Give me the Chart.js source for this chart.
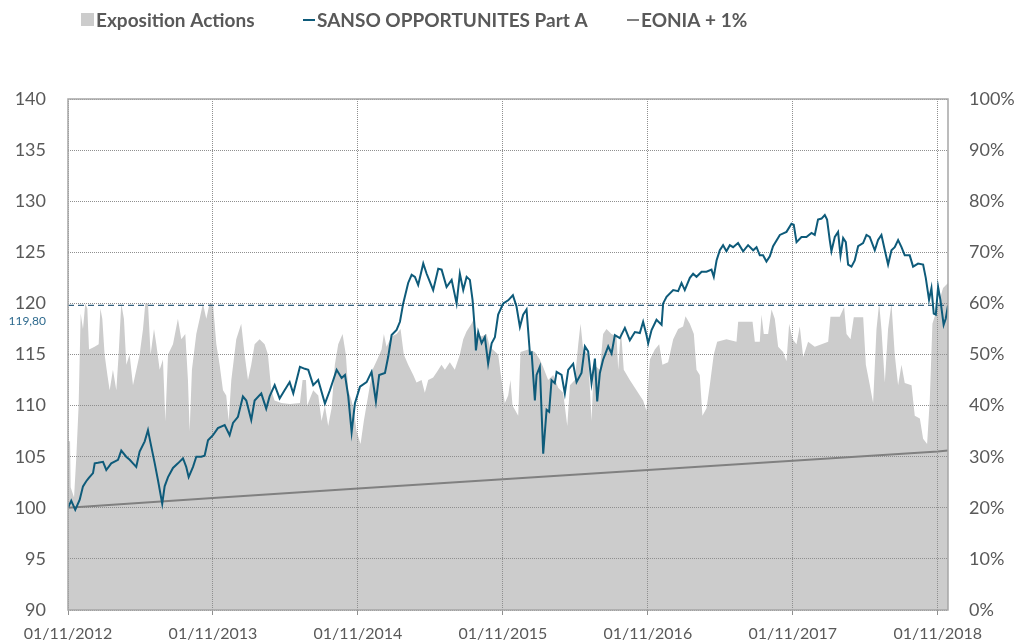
<!DOCTYPE html>
<html>
<head>
<meta charset="utf-8">
<script src="https://cdn.jsdelivr.net/npm/chart.js@4.4.1/dist/chart.umd.min.js"></script>
<style>
html,body{margin:0;padding:0;background:#fff;}
#wrap{width:1016px;height:643px;position:relative;}
</style>
</head>
<body>
<div id="wrap"><canvas id="c" width="1016" height="643"></canvas></div>
<script>
// ---- Data (months since 01/11/2012) ----
const xTickMonths = [0, 12, 24, 36, 48, 60, 72];
const xTickLabels = ['01/11/2012','01/11/2013','01/11/2014','01/11/2015','01/11/2016','01/11/2017','01/11/2018'];
const xMaxMonths = 72.85;

const fundMonths = [0,0.27,0.6,0.97,1.24,1.51,1.71,2.07,2.21,2.48,2.9,3.17,3.58,4.14,4.41,4.82,5.11,5.38,5.65,5.93,6.35,6.62,6.84,7.18,7.45,7.8,8.0,8.28,8.69,9.1,9.52,9.79,9.99,10.35,10.62,11.03,11.31,11.59,12.0,12.41,12.97,13.38,13.66,14.07,14.48,14.76,15.17,15.45,16.0,16.41,16.69,17.11,17.52,17.93,18.35,18.65,19.2,19.61,19.89,20.3,20.71,21.27,21.68,22.24,22.65,22.93,23.2,23.48,23.75,24.17,24.72,25.13,25.49,25.76,26.24,26.51,26.79,27.2,27.48,27.75,28.16,28.45,28.72,28.99,29.41,29.69,29.96,30.23,30.65,30.93,31.34,31.76,32.17,32.44,32.72,33.0,33.27,33.49,33.68,33.77,33.96,34.24,34.51,34.78,35.07,35.34,35.61,36.03,36.44,36.83,37.13,37.41,37.68,37.96,38.09,38.24,38.38,38.65,38.79,39.06,39.34,39.62,39.83,40.03,40.3,40.45,40.86,41.13,41.41,41.82,42.1,42.51,42.79,43.06,43.34,43.62,43.81,44.03,44.3,44.72,45.0,45.27,45.68,46.1,46.51,46.93,47.34,47.61,47.89,48.03,48.31,48.72,49.14,49.27,49.55,50.1,50.51,50.79,51.06,51.48,51.75,52.03,52.45,52.86,53.27,53.46,53.69,53.96,54.23,54.51,54.79,55.06,55.47,55.89,56.3,56.72,57.0,57.27,57.54,57.82,58.1,58.37,58.93,59.48,59.89,60.08,60.31,60.72,61.13,61.55,61.82,62.09,62.38,62.65,62.84,63.06,63.2,63.48,63.75,63.95,64.17,64.39,64.58,64.86,65.13,65.41,65.82,66.1,66.37,66.79,67.06,67.34,67.62,67.89,68.17,68.44,68.72,69.0,69.27,69.68,69.96,70.37,70.79,71.01,71.28,71.48,71.67,71.84,72.03,72.22,72.49,72.66,72.85];
const fundValues = [100.0,100.7,99.8,100.8,102.1,102.6,102.9,103.4,104.35,104.4,104.5,103.7,104.35,104.7,105.6,105.0,104.7,104.35,104.0,105.5,106.5,107.6,106.3,104.35,102.7,100.4,102.1,103.0,103.9,104.35,104.85,104.0,103.0,104.0,105.0,105.0,105.1,106.6,107.1,107.8,108.1,107.1,108.3,108.9,110.9,110.5,108.6,110.5,111.2,109.7,110.9,112.0,110.7,111.5,112.3,111.2,113.8,113.6,113.5,112.0,112.5,110.2,111.5,113.5,112.7,113.0,110.9,107.4,110.2,111.85,112.3,113.3,110.4,113.0,113.2,114.8,116.9,117.4,118.2,120.0,122.0,122.8,122.6,121.8,123.9,122.9,122.1,121.3,123.4,123.3,121.6,122.3,120.0,122.9,121.3,122.6,122.3,120.35,117.4,115.4,117.2,116.1,116.7,114.1,116.1,116.7,118.9,120.0,120.3,120.8,119.7,117.7,118.9,119.4,117.4,115.1,115.2,110.5,113.0,113.8,105.3,109.6,109.4,112.5,112.2,113.3,113.0,111.2,113.5,114.1,112.3,113.2,115.8,115.3,112.2,114.6,110.4,113.2,114.5,115.8,115.1,116.9,116.6,117.6,116.4,117.2,117.1,118.2,116.9,116.1,117.4,118.4,117.9,120.0,120.65,121.3,121.2,122.0,121.3,122.5,122.9,122.6,123.1,123.1,123.3,122.6,124.2,125.2,125.7,125.1,125.7,125.5,125.9,125.1,125.7,125.2,125.5,124.7,124.7,124.1,124.6,125.6,126.7,127.0,127.8,127.7,126.0,126.5,126.5,126.9,126.7,128.2,128.3,128.65,128.2,126.2,125.1,126.5,127.0,124.7,126.4,126.0,123.8,123.6,124.2,125.6,125.9,126.7,126.5,125.2,126.2,126.7,125.2,123.8,125.2,125.5,126.2,125.5,124.7,124.7,123.6,123.9,123.8,122.5,120.35,121.5,119.0,118.9,121.6,120.35,117.9,118.5,119.8];

const eoniaMonths = [0, 12, 24, 36, 48, 60, 72, 72.85];
const eoniaValues = [100.0, 100.95, 101.9, 102.8, 103.7, 104.6, 105.5, 105.6];

const expoMonths = [0,0.17,0.22,0.5,0.69,0.88,1.05,1.24,1.43,1.6,1.74,2.2,2.54,2.68,2.84,3.03,3.26,3.45,3.72,4.0,4.19,4.41,4.63,4.83,5.1,5.38,5.66,5.93,6.21,6.4,6.62,6.84,7.12,7.31,7.59,7.86,8.06,8.28,8.69,9.1,9.38,9.71,9.93,10.07,10.26,10.62,10.9,11.17,11.45,11.72,12.0,12.28,12.55,12.83,13.1,13.3,13.52,13.93,14.34,14.62,14.9,15.17,15.45,15.86,16.28,16.55,16.83,17.1,17.66,18.37,19.2,19.42,19.7,19.8,20.3,20.72,20.99,21.27,21.54,21.82,22.09,22.37,22.73,23.0,23.2,23.47,23.67,23.89,24.22,24.49,24.85,25.21,25.6,25.96,26.15,26.37,26.78,27.2,27.53,27.8,28.16,28.58,28.85,29.27,29.54,29.82,30.23,30.51,30.92,31.2,31.61,32.02,32.44,32.72,32.99,33.4,33.6,33.82,34.23,34.65,34.92,35.61,35.89,36.16,36.44,36.63,36.8,37.27,37.46,38.1,38.65,39.06,39.34,39.75,40.17,40.58,40.99,41.33,41.55,41.96,42.24,42.43,42.65,43.06,43.34,43.53,44.03,44.3,44.58,44.99,45.41,45.55,45.77,46.01,46.51,47.06,47.61,47.89,48.17,48.58,48.94,49.21,49.68,50.1,50.51,50.92,51.12,51.48,51.81,52.03,52.3,52.52,52.86,53.13,53.46,53.74,54.51,55.34,55.48,56.67,56.86,57.27,57.41,57.6,57.96,58.24,58.51,58.79,59.2,59.48,59.7,59.98,60.31,60.58,60.86,61.27,61.82,62.38,62.93,63.12,63.89,64.25,64.45,64.78,65.05,65.83,66.05,66.38,66.65,66.93,67.15,67.34,67.62,67.89,68.17,68.44,68.72,69.0,69.27,69.83,70.1,70.52,70.79,71.12,71.34,71.56,71.89,72.44,72.85];
const expoValues = [33,33,24,22,30,40,58,55,60,59,51,51.5,52,59,57,50,46,43,47,43,50,60,57,48,50,44,47,50,55,60,60,50,55,52,47,49,37,50,52,57,53,54,45,35,47,54,57,60,57,60,60,52,48,43,42,37,45,53,56,50,45,48,52,53,52,50,43,41,40.5,40.3,40.5,45,45,40,43,42,37,40,36,39.5,48,52,54,50,43,41,39,35,32.5,37,42,47,49,51,54,51.5,53.5,54,55,50,48,46,44.5,45,42.5,45,45.5,46.5,48,47,48.5,47,50,53,54.5,56,57,54,53.5,54,51.5,50,45,40.5,42,45,40,38,50.5,51,50.5,49,47.5,45,46,43.5,42.5,36,44,45,52,56,51,50,37,48,47,54,55,54,53.5,47,55,47,45,43,41,39,49,51,52,48,48.5,53,55,55.5,57.5,56,54,47,46,38,39.5,44,50,52.5,53,52.5,56.4,56.4,52.5,52.5,57.8,54,54,58.8,57,51.5,50.5,48.7,56,53,52,55.5,49.5,52.5,51.5,52,52.5,57.4,57.4,59.3,54,53,57.3,57.3,48,44,40.5,55,60,55,44.5,55,60,50,44,48,44.4,44,38,37.5,33.5,32.5,41,56,58.5,63,64];

const refLevel = 119.80;
const refLabel = '119,80';

const legendItems = [
  {text: 'Exposition Actions', kind: 'box', color: '#cccccc'},
  {text: 'SANSO OPPORTUNITES Part A', kind: 'line', color: '#0e5b7a'},
  {text: 'EONIA + 1%', kind: 'line', color: '#808080'}
];

const toXY = (xs, ys) => xs.map((x, i) => ({x: x, y: ys[i]}));

const FONT = 'Lato, "Open Sans", sans-serif';
const TICK_COLOR = '#595959';
const GRID_COLOR = '#8f8f8f';

const customPlugin = {
  id: 'custom',
  afterDatasetDraw(chart, args) {
    if (args.index !== 0) return;
    const ctx = chart.ctx;
    const area = chart.chartArea;
    chart.scales.x.drawGrid(area);
    chart.scales.y.drawGrid(area);
    const yy = chart.scales.y.getPixelForValue(refLevel);
    ctx.save();
    ctx.strokeStyle = '#33607f';
    ctx.lineWidth = 1.3;
    ctx.setLineDash([6, 4]);
    ctx.beginPath();
    ctx.moveTo(area.left, yy);
    ctx.lineTo(area.right, yy);
    ctx.stroke();
    ctx.restore();
  },
  afterDraw(chart) {
    const ctx = chart.ctx;
    const area = chart.chartArea;
    ctx.save();
    ctx.strokeStyle = '#a6a6a6';
    ctx.lineWidth = 1.5;
    ctx.strokeRect(area.left, area.top, area.right - area.left, area.bottom - area.top);
    const yy = chart.scales.y.getPixelForValue(refLevel);
    ctx.fillStyle = '#2e6a8e';
    ctx.font = '12px ' + FONT;
    ctx.textAlign = 'right';
    ctx.textBaseline = 'middle';
    ctx.fillText(refLabel, 46, yy + 16);
    const starts = [81, 303, 627];
    ctx.font = 'bold 19px ' + FONT;
    ctx.textAlign = 'left';
    ctx.textBaseline = 'middle';
    legendItems.forEach((it, i) => {
      const x0 = starts[i];
      const cy = 20;
      if (it.kind === 'box') {
        ctx.fillStyle = it.color;
        ctx.fillRect(x0, cy - 7, 13, 13);
        ctx.fillStyle = '#595959';
        ctx.fillText(it.text, x0 + 15, cy + 1);
      } else {
        ctx.strokeStyle = it.color;
        ctx.lineWidth = 2;
        ctx.beginPath();
        ctx.moveTo(x0, cy);
        ctx.lineTo(x0 + 12, cy);
        ctx.stroke();
        ctx.fillStyle = '#595959';
        ctx.fillText(it.text, x0 + 14, cy + 1);
      }
    });
    ctx.restore();
  }
};

new Chart(document.getElementById('c'), {
  type: 'line',
  data: {
    datasets: [
      {
        label: 'Exposition Actions',
        data: toXY(expoMonths, expoValues),
        yAxisID: 'y2',
        fill: 'origin',
        backgroundColor: '#cccccc',
        borderWidth: 0,
        pointRadius: 0,
        tension: 0,
        order: 2
      },
      {
        label: 'EONIA + 1%',
        data: toXY(eoniaMonths, eoniaValues),
        yAxisID: 'y',
        borderColor: '#808080',
        borderWidth: 2,
        pointRadius: 0,
        fill: false,
        order: 1
      },
      {
        label: 'SANSO OPPORTUNITES Part A',
        data: toXY(fundMonths, fundValues),
        yAxisID: 'y',
        borderColor: '#0e5b7a',
        borderWidth: 2,
        pointRadius: 0,
        fill: false,
        tension: 0,
        order: 0
      }
    ]
  },
  options: {
    responsive: false,
    animation: false,
    devicePixelRatio: 1,
    layout: {padding: {top: 99, left: 0, right: 0, bottom: 0}},
    plugins: {legend: {display: false}, tooltip: {enabled: false}},
    scales: {
      x: {
        type: 'linear',
        min: 0,
        max: xMaxMonths,
        afterBuildTicks(scale) { scale.ticks = xTickMonths.map(v => ({value: v})); },
        afterFit(scale) { scale.height = 33; },
        grid: {color: GRID_COLOR, lineWidth: 1, drawTicks: true, tickLength: 5},
        border: {display: false, dash: [1, 1]},
        ticks: {
          color: TICK_COLOR,
          font: {family: FONT, size: 16},
          padding: 9,
          maxRotation: 0,
          autoSkip: false,
          callback(v) { const i = xTickMonths.indexOf(v); return i >= 0 ? xTickLabels[i] : ''; }
        }
      },
      y: {
        position: 'left',
        min: 90,
        max: 140,
        afterFit(scale) { scale.width = 68; },
        grid: {color: GRID_COLOR, lineWidth: 1, drawTicks: false},
        border: {display: false, dash: [1, 1]},
        ticks: {stepSize: 5, color: TICK_COLOR, font: {family: FONT, size: 18}, padding: 22}
      },
      y2: {
        position: 'right',
        min: 0,
        max: 100,
        afterFit(scale) { scale.width = 68; },
        grid: {display: false, drawTicks: false},
        border: {display: false},
        ticks: {stepSize: 10, color: TICK_COLOR, font: {family: FONT, size: 18}, padding: 21,
          callback(v) { return v + '%'; }}
      }
    }
  },
  plugins: [customPlugin]
});
</script>
</body>
</html>
